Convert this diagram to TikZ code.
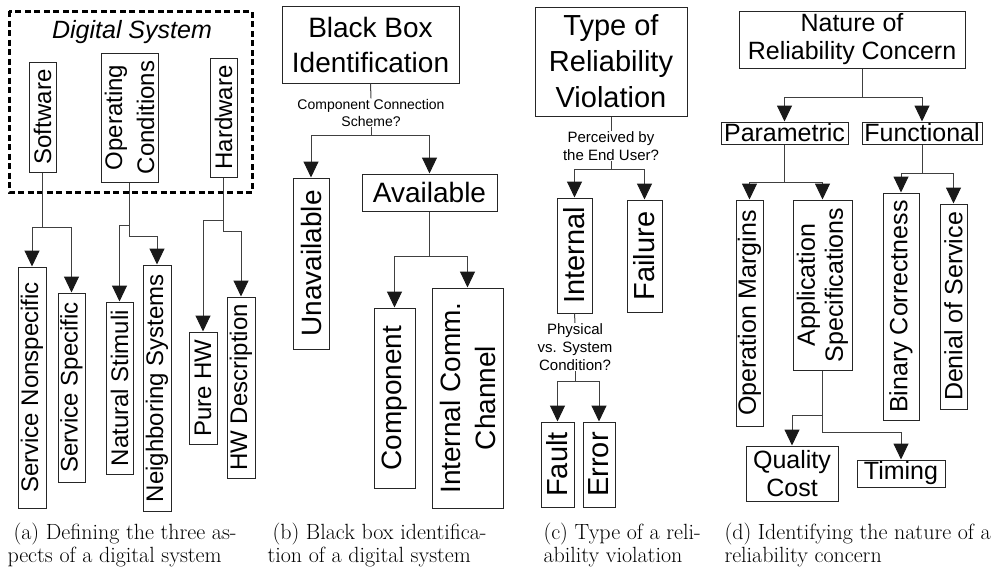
\documentclass[tikz,border=0pt]{standalone}
\usepackage{fontspec}
\newfontfamily\arialfont{Liberation Sans}
\usetikzlibrary{arrows.meta}

\tikzset{every picture/.style={line width=1pt}}
\tikzset{
  box/.style={draw=black!85, inner sep=0pt, align=center},
  bx/.style 2 args={minimum width=#1pt, minimum height=#2pt},
  vbx/.style 2 args={rotate=90, minimum width=#2pt, minimum height=#1pt},
  wire/.style={draw=black!75},
  conn/.style={draw=black!75, -{Triangle[length=16pt,width=15pt,color=black!90]}},
  fA/.style={font=\arialfont\fontsize{24}{32}\selectfont},
  fB/.style={font=\arialfont\fontsize{28}{35}\selectfont},
  fC/.style={font=\arialfont\fontsize{29}{36}\selectfont},
  fD/.style={font=\arialfont\fontsize{25}{28}\selectfont},
  ask/.style={font=\arialfont\fontsize{14}{17}\selectfont, inner sep=0pt, align=center},
  askc/.style={font=\arialfont\fontsize{15}{18}\selectfont, inner sep=0pt, align=center},
  capt/.style={font=\fontsize{22}{24}\selectfont, anchor=base west, inner sep=0pt},
}

\begin{document}
\begin{tikzpicture}[x=1pt,y=1pt,yscale=-1]
	\useasboundingbox (0,0) rectangle (992,570);

	%% (a) digital system
	%Straight Lines
	\draw [line width=3pt, dash pattern=on 6pt off 3.5pt]  (9,11) rectangle (252,192) ;
	% Text Node
	\node [fA, inner sep=0pt] (dsys) at (132,32) {\fontsize{25}{30}\selectfont\itshape Digital System};
	% Text Node
	\node [box, fA, vbx={27}{110}] (sw) at (42.5,117) {Software};
	\node [box, fA, vbx={57}{129}] (opc) at (129.5,117.5) {Operating\\Conditions};
	\node [box, fA, vbx={27}{119}] (hw) at (223.5,117.5) {Hardware};
	% Text Node
	\node [box, fA, vbx={28}{241}] (svn) at (32,387.5) {Service Nonspecific};
	\node [box, fA, vbx={27}{189}] (svs) at (71.5,387.5) {Service Specific};
	\node [box, fA, vbx={27}{172}] (nst) at (119.5,388) {Natural Stimuli};
	\node [box, fA, vbx={28}{246}] (nbs) at (157,388) {Neighboring Systems};
	\node [box, fA, vbx={28}{112}] (phw) at (203,388) {Pure HW};
	\node [box, fA, vbx={28}{181}] (hwd) at (241,387.5) {HW Description};
	% Connection
	\coordinate (swbus) at (42.5,227);
	\draw [conn]  (sw.west) -- (swbus) -| (svn.east) ;
	\draw [conn]  (swbus) -| (svs.east) ;
	% Connection
	\coordinate (opcbusa) at (129.5,225);
	\coordinate (opcbusb) at (129.5,236);
	\draw [conn]  (opc.west) -- (opcbusa) -| (nst.east) ;
	\draw [conn]  (opcbusa) -- (opcbusb) -| (nbs.east) ;
	% Connection
	\coordinate (hwbusa) at (223.5,220);
	\coordinate (hwbusb) at (223.5,231);
	\draw [conn]  (hw.west) -- (hwbusa) -| (phw.east) ;
	\draw [conn]  (hwbusa) -- (hwbusb) -| (hwd.east) ;

	%% (b) black box
	% Text Node
	\node [box, fB, bx={177}{77}] (bbi) at (370.5,44.5) {Black Box\\Identification};
	\node [ask] (ccs) at (371,112.5) {Component Connection\\Scheme?};
	\node [box, fB, vbx={36}{171}] (unav) at (311,263.5) {Unavailable};
	\node [box, fB, bx={135}{37}] (avl) at (429.5,192.5) {Available};
	\node [box, fB, vbx={41}{180}] (comp) at (394.5,398) {Component};
	\node [box, fB, vbx={71}{220}] (icc) at (467.5,398) {Internal Comm.\\Channel};
	% Connection
	\coordinate (ccsbus) at (371,135);
	\draw [wire]  (bbi.south) -- (ccs.north) ;
	\draw [conn]  (ccs.south) -- (ccsbus) -| (unav.east) ;
	\draw [conn]  (ccsbus) -| (avl.north) ;
	% Connection
	\coordinate (avlbus) at (429.5,256);
	\draw [conn]  (avl.south) -- (avlbus) -| (comp.east) ;
	\draw [conn]  (avlbus) -| (icc.east) ;

	%% (c) reliability violation
	% Text Node
	\node [box, fC, bx={152}{109}] (trv) at (611,61.5) {Type of\\Reliability\\Violation};
	\node [askc] (peu) at (611,146) {Perceived by\\the End User?};
	\node [box, fC, vbx={35}{115}] (intl) at (574.5,255.5) {Internal};
	\node [box, fC, vbx={35}{112}] (fail) at (644.5,256) {Failure};
	\node [askc] (pvs) at (575,347) {Physical\\vs. System\\Condition?};
	\node [box, fC, vbx={33}{85}] (flt) at (557.5,464.5) {Fault};
	\node [box, fC, vbx={32}{85}] (err) at (599,464.5) {Error};
	% Connection
	\coordinate (peubus) at (611,169);
	\draw [wire]  (trv.south) -- (peu.north) ;
	\draw [conn]  (peu.south) -- (peubus) -| (intl.east) ;
	\draw [conn]  (peubus) -| (fail.east) ;
	% Connection
	\coordinate (pvsbus) at (575,381);
	\draw [wire]  (intl.west) -- (pvs.north) ;
	\draw [conn]  (pvs.south) -- (pvsbus) -| (flt.east) ;
	\draw [conn]  (pvsbus) -| (err.east) ;

	%% (d) nature of concern
	% Text Node
	\node [box, fD, bx={226}{57}] (nrc) at (852,39.5) {Nature of\\Reliability Concern};
	\node [box, fD, bx={127}{22}] (par) at (784.5,133) {Parametric};
	\node [box, fD, bx={120}{22}] (fun) at (922,133) {Functional};
	\node [box, fD, vbx={27}{226}] (opm) at (749.5,313) {Operation Margins};
	\node [box, fD, vbx={59}{170}] (aps) at (822.5,285) {Application\\Specifications};
	\node [box, fD, vbx={36}{227}] (bcr) at (901,306.5) {Binary Correctness};
	\node [box, fD, vbx={27}{205}] (dos) at (953.5,306.5) {Denial of Service};
	\node [box, fD, bx={92}{55}] (qc) at (792,473.5) {Quality\\Cost};
	\node [box, fD, bx={88}{27}] (tim) at (901,473.5) {Timing};
	% Connection
	\coordinate (nrcbus) at (862,97);
	\draw [conn]  (nrcbus |- nrc.south) -- (nrcbus) -| (par.north) ;
	\draw [conn]  (nrcbus) -| (fun.north) ;
	% Connection
	\coordinate (parbus) at (784.5,182);
	\draw [conn]  (par.south) -- (parbus) -| (opm.east) ;
	\draw [conn]  (parbus) -| (aps.east) ;
	% Connection
	\coordinate (funbus) at (922,173);
	\draw [conn]  (fun.south) -- (funbus) -| (bcr.east) ;
	\draw [conn]  (funbus) -| (dos.east) ;
	% Connection
	\coordinate (apsbusa) at (822.5,415);
	\coordinate (apsbusb) at (822.5,432);
	\draw [conn]  (aps.west) -- (apsbusa) -| (qc.north) ;
	\draw [conn]  (apsbusa) -- (apsbusb) -| (tim.north) ;

	%% captions
	% Text Node
	\node [capt] (capa1) at (13,539) {(a) Defining the three as-};
	\node [capt] (capa2) at (7,562) {pects of a digital system};
	\node [capt] (capb1) at (272,539) {(b) Black box identifica-};
	\node [capt] (capb2) at (267,562) {tion of a digital system};
	\node [capt] (capc1) at (543,539) {(c) Type of a reli-};
	\node [capt] (capc2) at (543,562) {ability violation};
	\node [capt] (capd1) at (724,539) {(d) Identifying the nature of a};
	\node [capt] (capd2) at (724,562) {reliability concern};

\end{tikzpicture}
\end{document}
